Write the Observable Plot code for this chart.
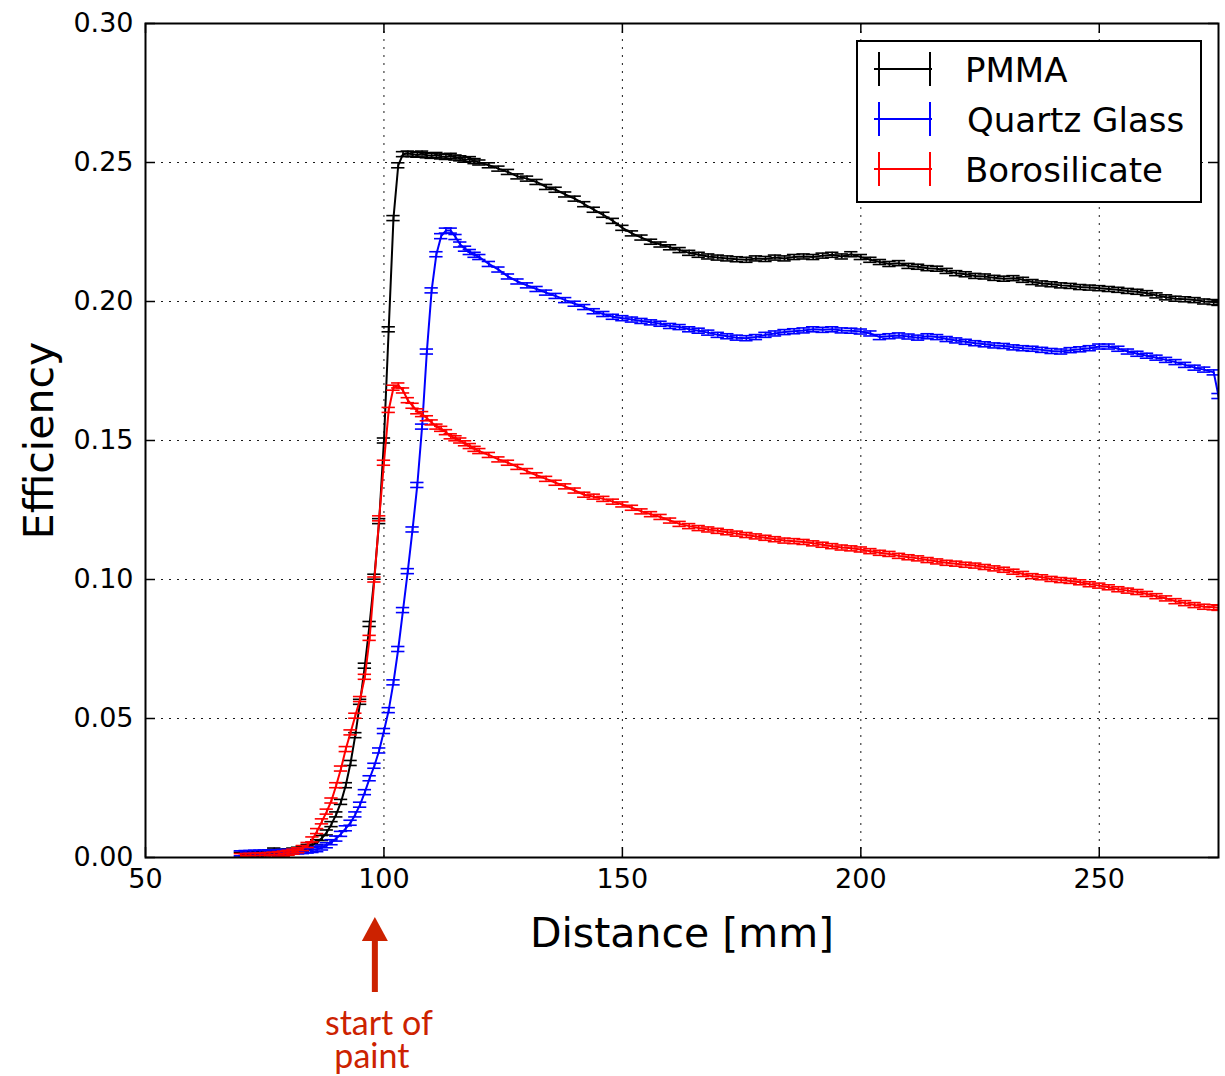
<!DOCTYPE html>
<html><head><meta charset="utf-8">
<script src="https://cdn.jsdelivr.net/npm/d3@7"></script>
<script src="https://cdn.jsdelivr.net/npm/@observablehq/plot@0.6"></script>
<style>body{margin:0;background:#fff} #chart{width:1225px;height:1076px}</style>
</head><body><div id="chart"></div>
<script>
// ---------------- data ----------------
const distance = [70,71,72,73,74,75,76,77,78,79,80,81,82,83,84,85,86,87,88,89,90,91,92,93,94,95,96,97,98,99,100,101,102,103,104,105,106,107,108,109,110,111,112,113,114,115,116,117,118,119,120,
122,124,126,128,130,132,134,136,138,140,142,144,146,148,150,152,154,156,158,160,162,164,166,168,170,172,174,176,178,180,182,184,186,188,190,192,194,196,198,200,202,204,206,208,210,212,214,216,218,220,222,224,226,228,230,232,234,236,238,240,242,244,246,248,250,252,254,256,258,260,262,264,266,268,270,272,274,275];

const pmma = [0.0010,0.0010,0.0012,0.0012,0.0014,0.0015,0.0018,0.0025,0.0020,0.0020,0.0022,0.0025,0.0028,0.0032,0.0038,0.0045,0.0055,0.0070,0.0090,0.0120,0.0155,0.0200,0.0260,0.0340,0.0440,0.0560,0.0690,0.0840,0.1010,0.1210,0.1500,0.1900,0.2300,0.2490,0.2530,0.2532,0.2530,0.2528,0.2532,0.2526,0.2524,0.2527,0.2522,0.2520,0.2524,0.2518,0.2515,0.2510,0.2512,0.2505,0.2500,
0.2490,0.2478,0.2466,0.2450,0.2442,0.2430,0.2412,0.2402,0.2385,0.2370,0.2350,0.2330,0.2312,0.2290,0.2265,0.2245,0.2230,0.2215,0.2205,0.2195,0.2185,0.2175,0.2168,0.2162,0.2158,0.2155,0.2152,0.2150,0.2155,0.2153,0.2158,0.2155,0.2160,0.2162,0.2160,0.2165,0.2168,0.2162,0.2170,0.2160,0.2150,0.2142,0.2135,0.2138,0.2128,0.2125,0.2120,0.2118,0.2110,0.2102,0.2098,0.2092,0.2090,0.2085,0.2082,0.2084,0.2078,0.2070,0.2065,0.2062,0.2058,0.2056,0.2052,0.2050,0.2048,0.2045,0.2042,0.2038,0.2035,0.2030,0.2022,0.2015,0.2010,0.2008,0.2005,0.2000,0.1998,0.1995];

const quartz = [0.0015,0.0016,0.0016,0.0017,0.0017,0.0018,0.0018,0.0019,0.0019,0.0020,0.0020,0.0021,0.0022,0.0023,0.0025,0.0027,0.0030,0.0036,0.0044,0.0055,0.0068,0.0085,0.0105,0.0125,0.0155,0.0190,0.0235,0.0285,0.0330,0.0385,0.0455,0.0530,0.0630,0.0750,0.0890,0.1030,0.1180,0.1340,0.1550,0.1820,0.2040,0.2170,0.2235,0.2255,0.2255,0.2232,0.2205,0.2190,0.2178,0.2168,0.2160,
0.2135,0.2115,0.2090,0.2072,0.2058,0.2045,0.2032,0.2020,0.2005,0.1992,0.1980,0.1965,0.1955,0.1945,0.1940,0.1935,0.1930,0.1925,0.1920,0.1912,0.1908,0.1900,0.1895,0.1888,0.1880,0.1875,0.1870,0.1868,0.1872,0.1880,0.1885,0.1890,0.1893,0.1896,0.1900,0.1898,0.1900,0.1896,0.1895,0.1892,0.1885,0.1872,0.1875,0.1878,0.1874,0.1870,0.1875,0.1872,0.1865,0.1860,0.1855,0.1850,0.1846,0.1842,0.1840,0.1835,0.1832,0.1830,0.1826,0.1822,0.1820,0.1825,0.1828,0.1832,0.1838,0.1838,0.1830,0.1820,0.1812,0.1805,0.1798,0.1790,0.1782,0.1772,0.1762,0.1755,0.1745,0.1660];

const borosilicate = [0.0005,0.0005,0.0006,0.0006,0.0007,0.0008,0.0009,0.0010,0.0012,0.0014,0.0017,0.0021,0.0026,0.0034,0.0045,0.0065,0.0095,0.0130,0.0165,0.0205,0.0260,0.0320,0.0390,0.0450,0.0510,0.0570,0.0650,0.0790,0.1000,0.1220,0.1420,0.1610,0.1690,0.1698,0.1680,0.1645,0.1625,0.1605,0.1595,0.1580,0.1565,0.1550,0.1542,0.1530,0.1515,0.1508,0.1500,0.1490,0.1480,0.1470,0.1462,
0.1448,0.1432,0.1420,0.1405,0.1390,0.1375,0.1362,0.1348,0.1335,0.1320,0.1305,0.1298,0.1290,0.1280,0.1270,0.1258,0.1245,0.1235,0.1225,0.1212,0.1200,0.1192,0.1185,0.1180,0.1175,0.1170,0.1165,0.1160,0.1155,0.1150,0.1145,0.1140,0.1138,0.1135,0.1130,0.1125,0.1120,0.1115,0.1112,0.1108,0.1102,0.1096,0.1092,0.1085,0.1080,0.1076,0.1070,0.1065,0.1060,0.1057,0.1053,0.1050,0.1045,0.1040,0.1035,0.1028,0.1020,0.1012,0.1008,0.1002,0.0998,0.0995,0.0990,0.0983,0.0978,0.0972,0.0965,0.0960,0.0955,0.0948,0.0940,0.0932,0.0922,0.0915,0.0908,0.0902,0.0900,0.0898];

const seriesNames = ["PMMA", "Quartz Glass", "Borosilicate"];
const seriesValues = [pmma, quartz, borosilicate];
const seriesErr = [0.0009, 0.0009, 0.0009];
const xTicks = [50, 100, 150, 200, 250];
const yTicks = [0.00, 0.05, 0.10, 0.15, 0.20, 0.25, 0.30];
const xLabel = "Distance [mm]";
const yLabel = "Efficiency";
const annotation = {x: 98.2, lines: ["start of", "paint"]};

// ---------------- styles ----------------
const seriesColors = ["#000000", "#0000ff", "#ff0000"];
const W = 1225, H = 1076;
const mL = 145, mR = 7, mT = 23, mB = 219;
const innerW = W - mL - mR, innerH = H - mT - mB;
const capHalf = 1.4; // mm
const tickLen = 10;

const rows = [];
seriesNames.forEach((name, i) => {
  seriesValues[i].forEach((v, j) => rows.push({series: name, x: distance[j], y: v, err: seriesErr[i]}));
});

const marks = [
  Plot.gridX(xTicks, {stroke: "black", strokeOpacity: 0.9, strokeWidth: 1, strokeDasharray: "2,6"}),
  Plot.gridY(yTicks, {stroke: "black", strokeOpacity: 0.9, strokeWidth: 1, strokeDasharray: "2,6"})
];
for (const name of seriesNames) {
  const d = rows.filter(r => r.series === name);
  marks.push(Plot.line(d, {x: "x", y: "y", stroke: "series", strokeWidth: 2, clip: true}));
  marks.push(Plot.ruleX(d, {x: "x", y1: r => r.y - r.err, y2: r => r.y + r.err, stroke: "series", strokeWidth: 1.6, clip: true}));
  marks.push(Plot.ruleY(d, {y: r => r.y + r.err, x1: r => r.x - capHalf, x2: r => r.x + capHalf, stroke: "series", strokeWidth: 1.6, clip: true}));
  marks.push(Plot.ruleY(d, {y: r => r.y - r.err, x1: r => r.x - capHalf, x2: r => r.x + capHalf, stroke: "series", strokeWidth: 1.6, clip: true}));
}
marks.push(
  // inward ticks on four sides
  Plot.ruleX(xTicks, {x: d => d, insetTop: innerH - tickLen, stroke: "black", strokeWidth: 1.5}),
  Plot.ruleX(xTicks, {x: d => d, insetBottom: innerH - tickLen, stroke: "black", strokeWidth: 1.5}),
  Plot.ruleY(yTicks, {y: d => d, insetRight: innerW - tickLen, stroke: "black", strokeWidth: 1.5}),
  Plot.ruleY(yTicks, {y: d => d, insetLeft: innerW - tickLen, stroke: "black", strokeWidth: 1.5}),
  Plot.axisX(xTicks, {tickSize: 0, tickPadding: 11, fontSize: 27, tickFormat: d => String(d), label: null, fill: "black"}),
  Plot.axisY(yTicks, {tickSize: 0, tickPadding: 12, fontSize: 27, tickFormat: d3.format(".2f"), label: null, fill: "black"}),
  Plot.text([xLabel], {text: d => d, frameAnchor: "bottom", dy: 76, fontSize: 41, textAnchor: "middle", lineAnchor: "middle", fill: "black"}),
  Plot.text([yLabel], {text: d => d, frameAnchor: "left", dx: -106, rotate: -90, fontSize: 41, textAnchor: "middle", lineAnchor: "middle", fill: "black"}),
  Plot.frame({stroke: "black", strokeWidth: 2})
);

const plot = Plot.plot({
  width: W, height: H,
  marginLeft: mL, marginRight: mR, marginTop: mT, marginBottom: mB,
  x: {domain: [50, 275], axis: null},
  y: {domain: [0, 0.30], axis: null},
  color: {type: "ordinal", domain: seriesNames, range: seriesColors},
  style: {fontFamily: "DejaVu Sans", color: "black", background: "white", overflow: "visible"},
  marks
});
document.getElementById("chart").appendChild(plot);

// ---------------- legend (matplotlib style) ----------------
const svg = d3.select(plot);
const frameRight = W - mR;
const lg = svg.append("g").attr("font-family", "DejaVu Sans").attr("text-anchor", "start");
const box = {x: frameRight - 17 - 344, y: mT + 18, w: 344, h: 161};
lg.append("rect").attr("x", box.x).attr("y", box.y).attr("width", box.w).attr("height", box.h)
  .attr("fill", "white").attr("stroke", "black").attr("stroke-width", 2);
seriesNames.forEach((name, i) => {
  const cy = box.y + 28 + i * 50;
  const x0 = box.x + 17, x1 = box.x + 75;
  const g = lg.append("g").attr("stroke", seriesColors[i]).attr("stroke-width", 2);
  g.append("line").attr("x1", x0).attr("x2", x1).attr("y1", cy).attr("y2", cy);
  g.append("line").attr("x1", x0 + 5).attr("x2", x0 + 5).attr("y1", cy - 17).attr("y2", cy + 17);
  g.append("line").attr("x1", x1 - 2).attr("x2", x1 - 2).attr("y1", cy - 17).attr("y2", cy + 17);
  lg.append("text").attr("x", box.x + 108 + (i === 1 ? 2 : 0)).attr("y", cy + 12.5)
    .attr("text-anchor", "start").attr("font-size", 34).attr("fill", "black").text(name);
});

// ---------------- annotation ----------------
const ax = plot.scale("x").apply(annotation.x);
const base = H - mB; // frame bottom
const an = svg.append("g").attr("fill", "#cc2200");
an.append("polygon").attr("points", `${ax},${base + 60} ${ax - 13},${base + 84} ${ax + 13},${base + 84}`);
an.append("rect").attr("x", ax - 3).attr("y", base + 82).attr("width", 6).attr("height", 53);
const at = an.append("text").attr("text-anchor", "middle")
  .attr("font-family", "Lato").attr("font-size", 34);
at.append("tspan").attr("x", ax + 4).attr("y", base + 178).text(annotation.lines[0]);
at.append("tspan").attr("x", ax - 3).attr("y", base + 211).text(annotation.lines[1]);
</script>
</body></html>
